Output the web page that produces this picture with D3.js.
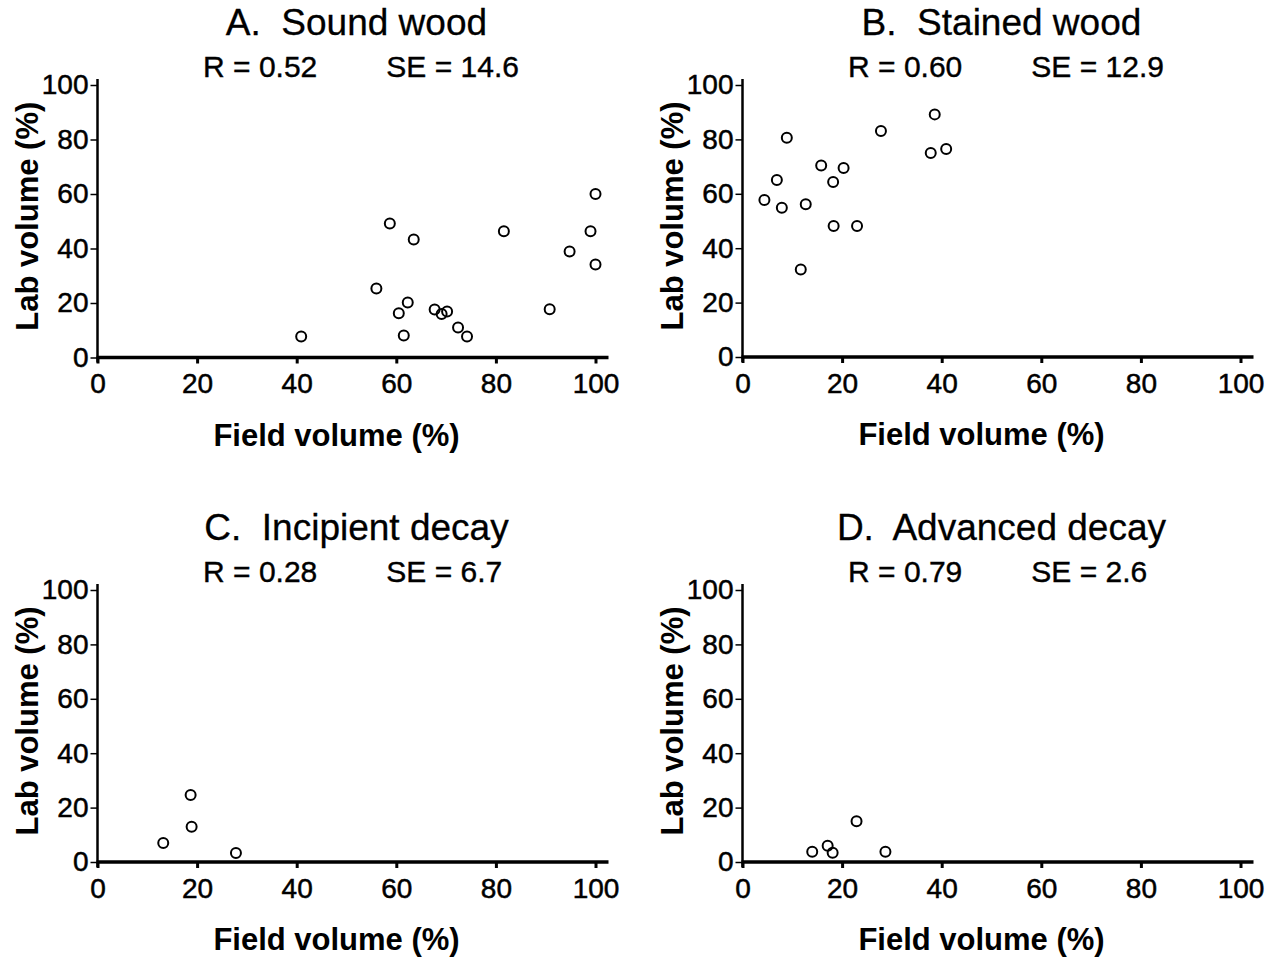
<!DOCTYPE html>
<html>
<head>
<meta charset="utf-8">
<script src="https://cdn.jsdelivr.net/npm/d3@7"></script>
<style>
  html, body { margin: 0; padding: 0; background: #fff; }
  svg { display: block; }
  text { font-family: "Liberation Sans", Arial, Helvetica, sans-serif; fill: #000; }
</style>
</head>
<body>
<svg id="chart" width="1277" height="959"></svg>
<script>
// ---- data ----
const axisTicks = [0, 20, 40, 60, 80, 100];

const panelTitles = ["A.  Sound wood", "B.  Stained wood", "C.  Incipient decay", "D.  Advanced decay"];
const rValues = ["0.52", "0.60", "0.28", "0.79"];
const seValues = ["14.6", "12.9", "6.7", "2.6"];

const soundField = [40.9, 58.7, 63.5, 81.6, 100, 99.0, 94.8, 100, 56.0, 62.3, 60.5, 61.5, 67.7, 69.1, 70.2, 72.4, 74.2, 90.8];
const soundLab   = [7.7, 49.2, 43.3, 46.3, 60.0, 46.3, 38.9, 34.1, 25.3, 20.2, 16.2, 8.1, 17.6, 16.0, 16.9, 11.0, 7.7, 17.7];

const stainedField = [4.4, 6.9, 7.9, 8.9, 11.7, 12.7, 15.8, 18.2, 18.3, 20.3, 23.0, 27.8, 37.8, 38.6, 40.9];
const stainedLab   = [57.7, 65.1, 54.9, 80.6, 32.2, 56.2, 70.4, 64.3, 48.2, 69.5, 48.2, 83.1, 75.0, 89.2, 76.5];

const incipientField = [13.2, 18.7, 18.9, 27.8];
const incipientLab   = [7.0, 24.6, 13.0, 3.3];

const advancedField = [14.0, 17.1, 18.1, 22.9, 28.7];
const advancedLab   = [3.8, 6.0, 3.4, 15.0, 3.8];

const fieldSeries = [soundField, stainedField, incipientField, advancedField];
const labSeries = [soundLab, stainedLab, incipientLab, advancedLab];

const xLabel = "Field volume (%)";
const yLabel = "Lab volume (%)";

// ---- layout ----
const svg = d3.select("#chart");
const panelOrigins = [
  { left: 97.5, top: 85, bottom: 357.5 },
  { left: 742.5, top: 85, bottom: 357 },
  { left: 97.5, top: 590, bottom: 862 },
  { left: 742.5, top: 590, bottom: 862 }
];
const plotW = 498;
const fontStack = '"Liberation Sans", Arial, sans-serif';

panelOrigins.forEach((p, i) => {
  const x = d3.scaleLinear().domain([0, 100]).range([p.left, p.left + plotW]);
  const y = d3.scaleLinear().domain([0, 100]).range([p.bottom, p.top]);
  const g = svg.append("g");

  // title & stats
  g.append("text")
    .attr("x", x(52)).attr("y", y(100) - 50)
    .attr("text-anchor", "middle")
    .attr("font-size", 37)
    .attr("stroke", "#000").attr("stroke-width", 0.3)
    .style("white-space", "pre")
    .text(panelTitles[i]);
  g.append("text")
    .attr("x", x(21.2)).attr("y", y(100) - 8)
    .attr("font-size", 30)
    .attr("stroke", "#000").attr("stroke-width", 0.4)
    .style("white-space", "pre")
    .text("R = " + rValues[i]);
  g.append("text")
    .attr("x", x(58)).attr("y", y(100) - 8)
    .attr("font-size", 30)
    .attr("stroke", "#000").attr("stroke-width", 0.4)
    .style("white-space", "pre")
    .text("SE = " + seValues[i]);

  // y axis
  const yAxis = d3.axisLeft(y).tickValues(axisTicks).tickSize(7).tickSizeOuter(0).tickPadding(2);
  const gy = g.append("g").attr("transform", `translate(${p.left},0)`).call(yAxis);
  gy.select(".domain").remove();
  gy.selectAll(".tick line").attr("stroke", "#000").attr("stroke-width", 1.5);
  gy.selectAll(".tick text").attr("font-size", 28).attr("fill", "#000")
    .attr("stroke", "#000").attr("stroke-width", 0.5)
    .style("font-family", fontStack);

  // x axis
  const xAxis = d3.axisBottom(x).tickValues(axisTicks).tickSize(6).tickSizeOuter(0).tickPadding(10);
  const gx = g.append("g").attr("transform", `translate(0,${p.bottom})`).call(xAxis);
  gx.select(".domain").remove();
  gx.selectAll(".tick line").attr("stroke", "#000").attr("stroke-width", 3);
  gx.selectAll(".tick text").attr("font-size", 28).attr("fill", "#000")
    .attr("stroke", "#000").attr("stroke-width", 0.5)
    .style("font-family", fontStack);

  // axis lines
  g.append("line")
    .attr("x1", x(0)).attr("x2", x(0))
    .attr("y1", y(0) + 5).attr("y2", y(100) - 6)
    .attr("stroke", "#000").attr("stroke-width", 2.5);
  g.append("line")
    .attr("x1", x(0) - 1).attr("x2", x(100) + 13)
    .attr("y1", y(0)).attr("y2", y(0))
    .attr("stroke", "#000").attr("stroke-width", 3.5);

  // axis labels
  g.append("text")
    .attr("x", x(48)).attr("y", y(0) + 88)
    .attr("text-anchor", "middle")
    .attr("font-size", 31).attr("font-weight", "bold")
    .text(xLabel);
  g.append("text")
    .attr("transform", `translate(${p.left - 60},${y(50) - 5}) rotate(-90)`)
    .attr("text-anchor", "middle")
    .attr("font-size", 31).attr("font-weight", "bold")
    .text(yLabel);

  // points
  const pts = fieldSeries[i].map((v, k) => ({ fx: v, ly: labSeries[i][k] }));
  g.selectAll("circle.pt").data(pts).enter().append("circle")
    .attr("class", "pt")
    .attr("cx", d => x(d.fx))
    .attr("cy", d => y(d.ly))
    .attr("r", 5)
    .attr("fill", "none")
    .attr("stroke", "#000")
    .attr("stroke-width", 2);
});
</script>
</body>
</html>
